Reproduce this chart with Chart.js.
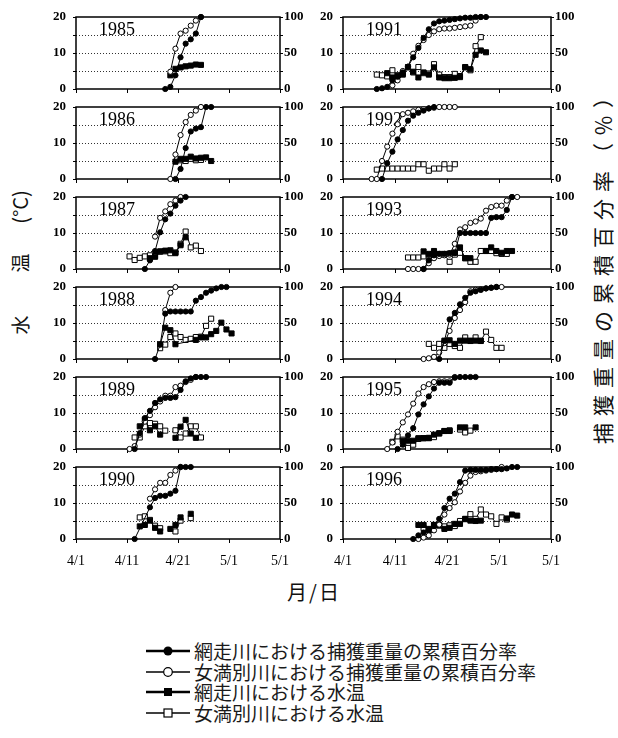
<!DOCTYPE html>
<html>
<head>
<meta charset="utf-8">
<script src="https://cdn.jsdelivr.net/npm/chart.js@4.4.1/dist/chart.umd.min.js"></script>
<style>
  html, body { margin: 0; padding: 0; background: #fff; }
  body { position: relative; width: 618px; height: 738px; overflow: hidden; font-family: "Noto Sans CJK JP", sans-serif; color: #111; }
  canvas { position: absolute; }
  .vtitle { position: absolute; white-space: nowrap; transform: translate(-50%, -50%) rotate(-90deg); }
  .xtitle { position: absolute; white-space: nowrap; transform: translate(-50%, -50%); }
  .lg { position: absolute; left: 0; height: 20px; }
  .lg svg { position: absolute; left: 146px; top: 0; }
  .lg span { position: absolute; left: 194px; top: -3px; font-size: 19px; line-height: 26px; white-space: nowrap; color: #1a1a1a; }
</style>
</head>
<body>

<div class="vtitle" style="left:19px; top:325px; font-size:19px;">水</div>
<div class="vtitle" style="left:19px; top:263px; font-size:19px;">温</div>
<div class="vtitle" style="left:19px; top:207px; font-size:20px;">(°C)</div>
<div class="vtitle" style="left:602px; top:262px; font-size:21px; letter-spacing:7px;">捕獲重量の累積百分率（％）</div>
<div class="xtitle" style="left:314px; top:591px; font-size:20px; letter-spacing:2px;">月/日</div>

<div class="lg" style="top:641px">
  <svg width="46" height="20"><line x1="0" y1="10" x2="44" y2="10" stroke="#000" stroke-width="2.5"/><circle cx="22" cy="10" r="4.5" fill="#000"/></svg>
  <span>網走川における捕獲重量の累積百分率</span>
</div>
<div class="lg" style="top:662px">
  <svg width="46" height="20"><line x1="0" y1="10" x2="44" y2="10" stroke="#000" stroke-width="1.3"/><circle cx="22" cy="10" r="4.3" fill="#fff" stroke="#000" stroke-width="1.2"/></svg>
  <span>女満別川における捕獲重量の累積百分率</span>
</div>
<div class="lg" style="top:682px">
  <svg width="46" height="20"><line x1="0" y1="10" x2="44" y2="10" stroke="#000" stroke-width="2.5"/><rect x="18" y="6" width="8" height="8" fill="#000"/></svg>
  <span>網走川における水温</span>
</div>
<div class="lg" style="top:703px">
  <svg width="46" height="20"><line x1="0" y1="10" x2="44" y2="10" stroke="#000" stroke-width="1.3"/><rect x="18" y="6" width="8" height="8" fill="#fff" stroke="#000" stroke-width="1.2"/></svg>
  <span>女満別川における水温</span>
</div>

<script>
// Panels: left column 1985–1990, right column 1991–1996.
// Each point is [day, value]; day counts from April 1 (= 1), May days continue as 31, 32, ...
// A null value breaks the line.
const years = [1985, 1986, 1987, 1988, 1989, 1990, 1991, 1992, 1993, 1994, 1995, 1996];
const dateLabels = ['4/1', '4/11', '4/21', '5/1', '5/1'];

// 網走川 cumulative catch weight (%)
const abashiriCatch = [
  [[18,0],[19,3],[20,19],[21,44],[22,63],[23,69],[24,77],[25,100]],
  [[20,0],[21,14],[22,43],[23,66],[24,70],[25,72],[26,100],[27,100]],
  [[14,0],[15,12],[16,25],[17,51],[18,69],[19,77],[20,88],[21,95],[22,100]],
  [[16,0],[17,20],[18,63],[19,66],[20,66],[21,66],[22,66],[23,66],[24,81],[25,86],[26,92],[27,95],[28,98],[29,100],[30,100]],
  [[12,0],[13,22],[14,43],[15,53],[16,64],[17,69],[18,71],[19,71],[20,72],[21,82],[22,94],[23,98],[24,100],[25,100],[26,100]],
  [[12,0],[15,44],[16,57],[17,60],[18,60],[19,63],[20,67],[21,100],[22,100],[23,100]],
  [[7,0],[8,1],[9,3],[10,12],[11,17],[12,23],[13,31],[14,44],[15,57],[16,71],[17,83],[18,91],[19,94],[20,95],[21,96],[22,97],[23,98],[24,99],[25,99],[26,100],[27,100],[28,100]],
  [[8,0],[9,22],[10,38],[11,55],[12,68],[13,81],[14,88],[15,92],[16,95],[17,98],[18,100]],
  [[16,0],[17,12],[18,19],[19,21],[20,21],[21,22],[22,22],[23,50],[24,50],[25,50],[26,50],[27,50],[28,50],[29,71],[30,72],[31,72],[32,82],[33,100]],
  [[19,0],[20,25],[21,55],[22,64],[23,76],[24,85],[25,92],[26,94],[27,96],[28,98],[29,99],[30,100]],
  [[11,0],[12,6],[13,19],[14,29],[15,48],[16,62],[17,73],[18,84],[19,92],[20,92],[21,92],[22,99],[23,100],[24,100],[25,100],[26,100]],
  [[14,0],[15,5],[16,9],[17,13],[18,18],[19,28],[20,43],[21,56],[22,63],[23,79],[24,95],[25,96],[26,96],[27,96],[28,96],[29,97],[30,97],[31,97],[32,98],[33,100],[34,100]]
];

// 女満別川 cumulative catch weight (%)
const memanbetsuCatch = [
  [[19,24],[20,56],[21,77],[22,81],[23,88],[24,95],[25,100]],
  [[19,0],[20,34],[21,61],[22,79],[23,89],[24,95],[25,100]],
  [[16,45],[17,71],[18,80],[19,90],[20,95],[21,100]],
  [[18,68],[19,92],[20,100]],
  [[11,0],[12,4],[13,20],[14,38],[15,47],[16,58],[17,66],[18,74],[19,74],[20,86],[21,88],[22,93],[23,96],[24,100]],
  [[15,56],[16,69],[17,78],[18,78],[19,89],[20,95],[21,100]],
  [[10,5],[11,12],[12,25],[13,31],[14,49],[15,60],[16,68],[17,75],[18,80],[19,83],[20,84],[21,84],[22,85],[23,86],[24,87],[25,88],[26,95],[27,100]],
  [[6,0],[7,0],[8,25],[9,45],[10,63],[11,76],[12,90],[13,92],[14,94],[15,96],[16,97],[17,98],[18,99],[19,100],[20,100],[21,100],[22,100]],
  [[13,0],[14,0],[15,0],[16,0],[17,8],[18,15],[19,18],[20,19],[21,20],[22,35],[23,55],[24,58],[25,64],[26,66],[27,70],[28,81],[29,86],[30,88],[31,88],[32,95],[33,100],[34,100]],
  [[16,0],[17,1],[18,3],[19,9],[20,22],[21,39],[22,57],[23,68],[24,79],[25,94],[26,96],[27,97],[28,98],[29,99],[30,100],[31,100]],
  [[9,0],[10,9],[11,24],[12,37],[13,48],[14,63],[15,77],[16,86],[17,90],[18,93],[19,94],[20,94],[21,94],[22,100]],
  [[15,0],[16,2],[17,5],[18,12],[19,20],[20,34],[21,43],[22,51],[23,66],[24,78],[25,88],[26,93],[27,94],[28,95],[29,96],[30,97],[31,100]]
];

// 網走川 water temperature (°C)
const abashiriTemp = [
  [[19,3.8],[20,5.6],[21,6.0],[22,6.3],[23,6.5],[24,6.8],[25,6.7]],
  [[20,4.8],[21,5.6],[22,5.6],[23,6.2],[24,5.7],[25,5.9],[26,6.0],[27,5.0]],
  [[15,3.0],[16,3.4],[17,4.9],[18,5.1],[19,5.2],[20,4.4],[21,6.6],[22,8.8]],
  [[17,4.1],[18,8.7],[19,8.0],[20,4.1],[24,5.3],[25,6.0],[26,6.0],[27,6.9],[28,7.8],[29,10.1],[30,8.2],[31,7.1]],
  [[13,6.3],[14,8.1],[15,5.2],[16,6.3],[17,4.0],[18,null],[20,3.1],[21,6.2],[22,8.1],[23,4.3],[24,3.1]],
  [[13,3.5],[14,3.9],[15,5.1],[16,3.1],[17,2.1],[18,null],[19,2.8],[20,3.9],[21,6.0],[22,null],[23,7.0]],
  [[9,4.4],[10,3.2],[11,3.7],[12,4.0],[13,6.0],[14,4.8],[15,3.2],[16,4.6],[17,4.0],[18,6.0],[19,3.2],[20,3.0],[21,3.0],[22,3.1],[23,3.3],[24,6.1],[25,5.5],[26,9.5],[27,10.7],[28,10.2]],
  [],
  [[16,4.9],[17,4.2],[18,5.0],[19,4.2],[20,4.2],[21,4.3],[22,4.6],[23,6.0],[24,3.0],[25,3.0],[26,null],[28,5.0],[29,6.0],[30,5.0],[31,4.5],[32,5.0],[33,5.0]],
  [[20,5.1],[21,5.2],[22,4.2],[23,5.1],[24,5.1],[25,5.1],[26,5.1],[27,5.1]],
  [[12,2.3],[13,2.3],[14,2.3],[15,3.0],[16,3.0],[17,3.0],[18,4.0],[19,4.3],[20,5.0],[21,5.0],[22,null],[23,6.0],[24,6.0],[25,null],[26,6.0]],
  [[15,3.9],[16,3.9],[17,2.8],[18,3.9],[19,3.9],[20,2.8],[21,3.1],[22,4.2],[23,4.2],[24,5.6],[25,5.1],[26,5.0],[27,5.1],[28,null],[32,5.7],[33,6.8],[34,6.5]]
];

// 女満別川 water temperature (°C)
const memanbetsuTemp = [
  [],
  [[21,5.2],[22,5.0],[23,5.6],[24,5.2],[25,5.3]],
  [[11,3.5],[12,2.5],[13,3.1],[14,3.5],[15,3.8],[16,3.6],[17,4.8],[18,4.9],[19,4.4],[20,4.6],[21,7.0],[22,10.4],[23,6.0],[24,6.5],[25,5.0]],
  [[17,3.0],[18,4.0],[19,6.1],[20,7.1],[21,6.1],[22,5.3],[23,5.6],[24,6.1],[25,6.2],[26,9.2],[27,11.2]],
  [[12,3.2],[13,3.2],[14,6.3],[15,7.2],[16,7.0],[17,6.3],[18,5.1],[19,null],[20,5.2],[21,3.2],[22,4.3],[23,6.3],[24,6.3],[25,3.2]],
  [[13,6.0],[14,6.3],[15,5.3],[16,3.7],[17,3.0],[18,null],[20,2.1],[21,5.1],[22,null],[23,5.8]],
  [[7,4.0],[8,3.8],[9,3.5],[10,5.2],[11,3.8],[12,4.4],[13,6.1],[14,4.6],[15,6.1],[16,4.4],[17,4.3],[18,6.9],[19,4.0],[20,3.3],[21,3.3],[22,4.2],[23,3.6],[24,6.0],[25,5.2],[26,11.9],[27,14.4]],
  [[7,2.6],[8,2.9],[9,2.9],[10,2.9],[11,2.9],[12,2.9],[13,2.9],[14,2.9],[15,4.1],[16,4.1],[17,2.3],[18,2.9],[19,2.9],[20,4.1],[21,2.9],[22,4.1]],
  [[13,3.2],[14,3.2],[15,3.2],[16,3.5],[17,3.8],[18,3.6],[19,4.0],[20,4.0],[21,2.0],[22,4.0],[23,4.5],[24,3.0],[25,2.0],[26,2.0],[27,5.0],[28,5.0],[29,5.0],[30,4.4],[31,4.2],[32,4.2]],
  [[17,4.2],[18,3.1],[19,4.2],[20,3.1],[21,4.2],[22,3.6],[23,3.1],[24,6.0],[25,5.0],[26,6.0],[27,5.0],[28,7.6],[29,5.3],[30,3.1],[31,3.1]],
  [[10,2.0],[11,3.5],[12,2.6],[13,0.3],[14,1.2],[15,2.8],[16,3.0],[17,3.1],[18,3.3],[19,4.4],[20,5.0],[21,5.2],[22,null],[23,5.4],[24,4.6],[25,5.1]],
  [[16,3.0],[17,2.5],[18,3.9],[19,3.7],[20,3.5],[21,3.8],[22,3.6],[23,5.0],[24,5.5],[25,6.9],[26,5.6],[27,8.2],[28,6.8],[29,6.3],[30,4.2],[31,6.0],[32,5.4]]
];

// ---- drawing ----
// Each panel gets its own canvas; PAD leaves room above and below the plot for the axis labels.
const PANEL_H = 72, ROW_STEP = 90, FIRST_TOP = 17, PAD = 16;

// points sit at midday: day n is drawn half a day after the n-th day boundary
const toPoints = pairs => pairs.map(([d, v]) => ({ x: d - 0.5, y: v }));

function series(pairs, axis, style, fill, radius) {
  return {
    data: toPoints(pairs),
    yAxisID: axis,
    borderColor: '#000',
    borderWidth: 1,
    tension: 0,
    fill: false,
    spanGaps: false,
    clip: false,
    pointStyle: style,
    pointRadius: radius,
    pointHoverRadius: radius,
    pointBackgroundColor: fill,
    pointBorderColor: '#000',
    pointBorderWidth: 1
  };
}

const panelFrame = {
  id: 'panelFrame',
  beforeDatasetsDraw(chart, args, opts) {
    const { ctx, chartArea: a } = chart;
    ctx.save();
    ctx.strokeStyle = '#000';
    ctx.lineWidth = 1.5;
    ctx.strokeRect(Math.round(a.left), Math.round(a.top), Math.round(a.right - a.left), Math.round(a.bottom - a.top));
    ctx.fillStyle = '#000';
    ctx.font = '18px "Liberation Serif", serif';
    ctx.textBaseline = 'alphabetic';
    ctx.textAlign = 'left';
    ctx.fillText(opts.text, a.left + 23, a.top + 18);
    ctx.restore();
  }
};

const tickFont = { family: 'Liberation Serif', size: 13, weight: 'bold' };

years.forEach((year, i) => {
  const col = i < 6 ? 0 : 1;
  const row = i % 6;
  const last = row === 5;
  const W = col ? 280 : 270;
  const rightW = col ? 32 : 26;
  const bottomH = last ? 40 : PAD;
  const H = PAD + PANEL_H + bottomH;

  const canvas = document.createElement('canvas');
  canvas.width = W; canvas.height = H;
  canvas.style.width = W + 'px'; canvas.style.height = H + 'px';
  canvas.style.left = (col ? 303 : 36) + 'px';
  canvas.style.top = (FIRST_TOP + ROW_STEP * row - PAD) + 'px';
  document.body.appendChild(canvas);

  new Chart(canvas, {
    type: 'line',
    data: {
      datasets: [
        series(abashiriCatch[i], 'y2', 'circle', '#000', 2.6),
        series(memanbetsuCatch[i], 'y2', 'circle', '#fff', 2.6),
        series(abashiriTemp[i], 'y', 'rect', '#000', 3.6),
        series(memanbetsuTemp[i], 'y', 'rect', '#fff', 3.6)
      ]
    },
    plugins: [panelFrame],
    options: {
      responsive: false,
      devicePixelRatio: 1,
      animation: false,
      events: [],
      layout: { autoPadding: false, padding: { top: PAD, left: 0, right: 0, bottom: 0 } },
      plugins: {
        legend: { display: false },
        tooltip: { enabled: false },
        panelFrame: { text: String(year) }
      },
      scales: {
        x: {
          type: 'linear', position: 'bottom', min: 0, max: 40,
          ticks: {
            display: last, stepSize: 10, autoSkip: false, maxRotation: 0, padding: 10,
            color: '#000', font: { family: 'Liberation Serif', size: 14 },
            callback: v => dateLabels[Math.round(v / 10)]
          },
          grid: { display: true, drawOnChartArea: false, drawTicks: true, tickLength: 4, tickColor: '#000', tickWidth: 1 },
          border: { display: false },
          afterFit: s => { s.height = bottomH; }
        },
        y: {
          type: 'linear', position: 'left', min: 0, max: 20,
          ticks: {
            stepSize: 5, autoSkip: false, padding: 7, color: '#000', font: tickFont,
            callback: v => (v % 10 === 0 ? v : '')
          },
          grid: {
            color: c => (c.tick && (c.tick.value === 0 || c.tick.value === 20)) ? 'rgba(0,0,0,0)' : '#333',
            lineWidth: 1, tickLength: 3, tickColor: '#000', tickWidth: 1, tickBorderDash: []
          },
          border: { display: false, dash: [1, 2] },
          afterFit: s => { s.width = 40; }
        },
        y2: {
          type: 'linear', position: 'right', min: 0, max: 100,
          ticks: {
            stepSize: 25, autoSkip: false, padding: 1, color: '#000', font: tickFont,
            callback: v => (v % 50 === 0 ? v : '')
          },
          grid: { drawOnChartArea: false, drawTicks: true, tickLength: 3, tickColor: '#000', tickWidth: 1 },
          border: { display: false },
          afterFit: s => { s.width = rightW; }
        }
      }
    }
  });
});
</script>
</body>
</html>
